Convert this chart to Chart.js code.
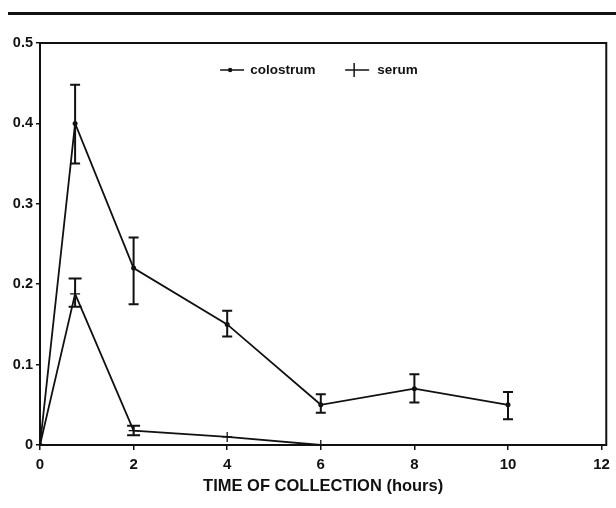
<!DOCTYPE html>
<html>
<head>
<meta charset="utf-8">
<script src="https://cdn.jsdelivr.net/npm/chart.js@4.4.1/dist/chart.umd.min.js"></script>
<style>
  html, body { margin: 0; padding: 0; background: #fff; }
  #wrap { position: relative; width: 616px; height: 508px; }
  #rule { position: absolute; left: 8px; right: 0; top: 12px; height: 3px; background: #111; }
  canvas { position: absolute; left: 0; top: 0; }
</style>
</head>
<body>
<div id="wrap">
  <div id="rule"></div>
  <canvas id="chart" width="616" height="508"></canvas>
</div>
<script>
// values
const colostrumTimes = [0, 0.75, 2, 4, 6, 8, 10];
const colostrumValues = [0, 0.40, 0.22, 0.15, 0.05, 0.07, 0.05];
const colostrumHigh = [null, 0.448, 0.258, 0.167, 0.063, 0.088, 0.066];
const colostrumLow = [null, 0.35, 0.175, 0.135, 0.04, 0.053, 0.032];

const serumTimes = [0, 0.75, 2, 4, 6];
const serumValues = [0, 0.188, 0.018, 0.01, 0];
const serumHigh = [null, 0.207, 0.024, null, null];
const serumLow = [null, 0.172, 0.012, null, null];

const xTicks = [0, 2, 4, 6, 8, 10, 12];
const yTicks = [0, 0.1, 0.2, 0.3, 0.4, 0.5];
const legendLabels = ["colostrum", "serum"];

const toPoints = (xs, ys) => xs.map((x, i) => ({ x: x, y: ys[i] }));

const FONT = "'Liberation Sans', Arial, sans-serif";

// frame around the plot area
const framePlugin = {
  id: "frame",
  beforeDatasetsDraw(chart) {
    const a = chart.chartArea;
    const ctx = chart.ctx;
    ctx.save();
    ctx.strokeStyle = "#111";
    ctx.lineWidth = 2;
    ctx.strokeRect(a.left, a.top, a.right - a.left, a.bottom - a.top);
    ctx.restore();
  }
};

// vertical error bars with caps
const errorBarPlugin = {
  id: "errorBars",
  afterDatasetsDraw(chart) {
    const ctx = chart.ctx;
    const xs = chart.scales.x, ys = chart.scales.y;
    ctx.save();
    ctx.strokeStyle = "#111";
    ctx.lineWidth = 2;
    chart.data.datasets.forEach((ds) => {
      if (!ds.errHigh) return;
      ds.data.forEach((p, i) => {
        const hi = ds.errHigh[i], lo = ds.errLow[i];
        if (hi == null || lo == null) return;
        const px = xs.getPixelForValue(p.x);
        const yh = ys.getPixelForValue(hi);
        const yl = ys.getPixelForValue(lo);
        const cw = ds.capWidth;
        ctx.beginPath();
        ctx.moveTo(px, yh); ctx.lineTo(px, yl);
        ctx.moveTo(px - cw / 2, yh); ctx.lineTo(px + cw / 2, yh);
        ctx.moveTo(px - cw / 2, yl); ctx.lineTo(px + cw / 2, yl);
        ctx.stroke();
      });
    });
    ctx.restore();
  }
};

// legend drawn inside the plot, near the top
const legendPlugin = {
  id: "insideLegend",
  afterDraw(chart) {
    const ctx = chart.ctx;
    const a = chart.chartArea;
    const y = a.top + 27;
    const cx = (a.left + a.right) / 2;
    ctx.save();
    ctx.strokeStyle = "#111";
    ctx.fillStyle = "#111";
    ctx.lineWidth = 1.5;
    ctx.font = "bold 13.5px " + FONT;
    ctx.textBaseline = "middle";
    // colostrum
    let x0 = cx - 103;
    ctx.beginPath(); ctx.moveTo(x0, y); ctx.lineTo(x0 + 24, y); ctx.stroke();
    ctx.beginPath(); ctx.arc(x0 + 10, y, 2.2, 0, Math.PI * 2); ctx.fill();
    ctx.fillText(legendLabels[0], x0 + 30, y);
    // serum
    x0 = cx + 22;
    ctx.beginPath(); ctx.moveTo(x0, y); ctx.lineTo(x0 + 24, y); ctx.stroke();
    ctx.beginPath(); ctx.moveTo(x0 + 9, y - 7); ctx.lineTo(x0 + 9, y + 7); ctx.stroke();
    ctx.fillText(legendLabels[1], x0 + 32, y);
    ctx.restore();
  }
};

new Chart(document.getElementById("chart"), {
  type: "scatter",
  data: {
    datasets: [
      {
        label: legendLabels[0],
        data: toPoints(colostrumTimes, colostrumValues),
        errHigh: colostrumHigh,
        errLow: colostrumLow,
        capWidth: 10,
        showLine: true,
        borderColor: "#111",
        backgroundColor: "#111",
        borderWidth: 1.8,
        pointStyle: "circle",
        pointRadius: 2.5,
        pointBorderWidth: 0,
      },
      {
        label: legendLabels[1],
        data: toPoints(serumTimes, serumValues),
        errHigh: serumHigh,
        errLow: serumLow,
        capWidth: 13,
        showLine: true,
        borderColor: "#111",
        backgroundColor: "#111",
        borderWidth: 1.8,
        pointStyle: "cross",
        pointRadius: 5,
        pointBorderWidth: 1.3,
      },
    ],
  },
  plugins: [framePlugin, errorBarPlugin, legendPlugin],
  options: {
    responsive: false,
    animation: false,
    layout: { padding: { left: 0, right: 8, top: 43, bottom: 0 } },
    plugins: {
      legend: { display: false },
      tooltip: { enabled: false },
    },
    scales: {
      x: {
        type: "linear",
        min: 0,
        max: 12.1,
        afterBuildTicks: (s) => { s.ticks = xTicks.map((v) => ({ value: v })); },
        afterFit: (s) => { s.height = 63; },
        grid: { display: true, drawOnChartArea: false, tickLength: 5, color: "#111", lineWidth: 1.5 },
        border: { display: false },
        ticks: {
          color: "#111",
          padding: 6,
          maxRotation: 0,
          font: { family: FONT, size: 15, weight: "bold" },
        },
        title: {
          display: true,
          text: "TIME OF COLLECTION (hours)",
          color: "#111",
          padding: { top: 0, bottom: 12 },
          font: { family: FONT, size: 16.5, weight: "bold" },
        },
      },
      y: {
        min: 0,
        max: 0.5,
        afterBuildTicks: (s) => { s.ticks = yTicks.map((v) => ({ value: v })); },
        afterFit: (s) => { s.width = 40; },
        grid: { display: true, drawOnChartArea: false, tickLength: 4, color: "#111", lineWidth: 1.5 },
        border: { display: false },
        ticks: {
          color: "#111",
          padding: 3,
          font: { family: FONT, size: 14.5, weight: "bold" },
          callback: (v) => (v === 0 ? "0" : v.toFixed(1)),
        },
      },
    },
  },
});
</script>
</body>
</html>
